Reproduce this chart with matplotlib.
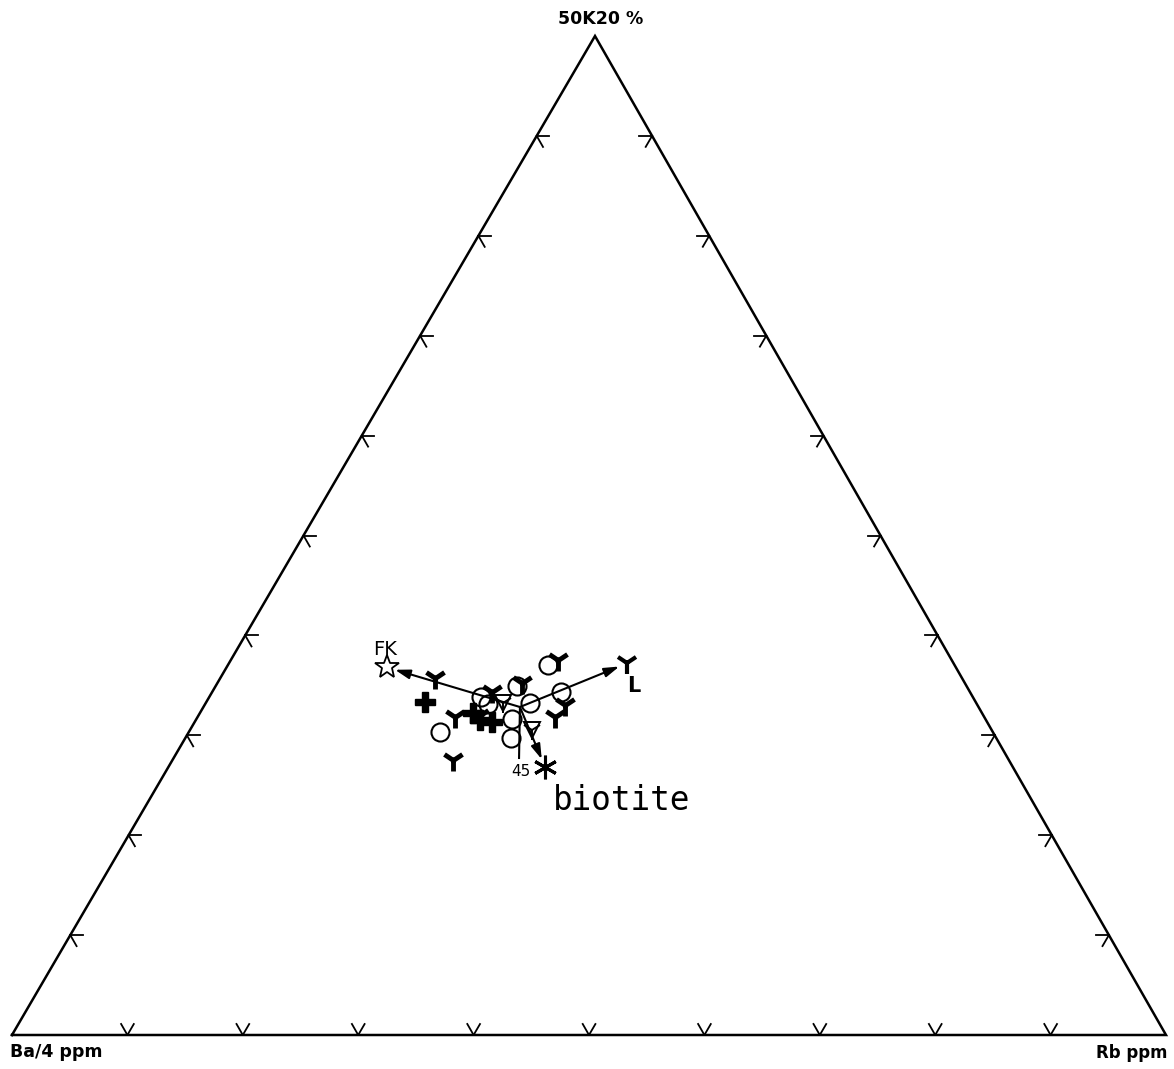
import numpy as np
import matplotlib
matplotlib.use("Agg")
import matplotlib.pyplot as plt

# ---- data: compositions in % (Ba/4, 50K2O, Rb) ----
circ_ba = [47.9, 42.6, 42.4, 39.0, 35.2, 38.7, 35.4, 41.0, 42.1]
circ_k = [30.3, 33.8, 33.1, 34.9, 37.0, 33.2, 34.3, 31.6, 29.7]
circ_rb = [21.8, 23.6, 24.5, 26.1, 27.7, 28.1, 30.2, 27.4, 28.2]

tri_ba = [45.7, 45.9, 48.2, 41.4, 38.4, 34.1, 37.2, 35.7, 43.7]
tri_k = [35.7, 31.8, 27.5, 34.3, 35.2, 37.5, 31.8, 33.0, 31.9]
tri_rb = [18.6, 22.3, 24.3, 24.3, 26.4, 28.4, 31.0, 31.2, 24.3]

otri_ba = [41.0, 39.8]
otri_k = [33.2, 30.5]
otri_rb = [25.8, 29.6]

plus_ba = [47.7, 43.9, 42.9, 44.1]
plus_k = [33.3, 31.5, 31.3, 32.2]
plus_rb = [19.0, 24.6, 25.8, 23.7]

end_names = ["FK", "L", "biotite"]
end_ba = [49.3, 28.3, 40.5]
end_k = [36.8, 37.2, 26.8]
end_rb = [13.9, 34.5, 32.6]

junction = (39.7, 32.8, 27.4)
tie45_end = (42.3, 27.7, 29.9)
tie45_label = "45"

axis_labels = ["Ba/4 ppm", "50K20 %", "Rb ppm"]
tick_fracs = [0.1, 0.2, 0.3, 0.4, 0.5, 0.6, 0.7, 0.8, 0.9]

H = np.sqrt(3) / 2
AX = 0.5052  # apex horizontal position (as drawn by the plotter)


def tern(a, b, c):
    a = np.asarray(a, float); b = np.asarray(b, float); c = np.asarray(c, float)
    s = a + b + c
    b = b / s; c = c / s
    return c + b * AX, b * H


def unit(dx, dy):
    n = np.hypot(dx, dy)
    return dx / n, dy / n


W, Hpx = 1174, 1069
fig = plt.figure(figsize=(W / 100, Hpx / 100), dpi=100)
ax = fig.add_axes([12 / W, 34 / Hpx, 1154 / W, 999 / Hpx])
ax.set_xlim(0, 1)
ax.set_ylim(0, H)
ax.axis("off")

# triangle
ax.plot([0, 1, AX, 0], [0, 0, H, 0], color="black", lw=1.8, solid_joinstyle="miter",
        clip_on=False)

# ticks
L = 0.011
dl = unit(AX, H)          # along left edge (upwards)
dr = unit(AX - 1, H)      # along right edge (upwards)
for f in tick_fracs:
    segs = [((f, 0), [dl, dr]),
            ((f * AX, f * H), [(1, 0), (-dr[0], -dr[1])]),
            ((1 - f * (1 - AX), f * H), [(-1, 0), (-dl[0], -dl[1])])]
    for (x0, y0), dirs in segs:
        for d in dirs:
            ax.plot([x0, x0 + L * d[0]], [y0, y0 + L * d[1]], color="black", lw=1.3)

# tie lines with arrows
jx, jy = tern(*junction)
ex, ey = tern(end_ba, end_k, end_rb)
for i in range(3):
    ax.annotate("", xy=(ex[i], ey[i]), xytext=(jx, jy),
                arrowprops=dict(arrowstyle="-|>,head_length=0.9,head_width=0.28",
                                color="black", lw=1.5, shrinkA=0, shrinkB=6))
tx, ty = tern(*tie45_end)
ax.plot([jx, tx], [jy, ty], color="black", lw=1.5)
ax.annotate(tie45_label, xy=(tx, ty), xytext=(2, -13), textcoords="offset pixels",
            ha="center", va="center", fontsize=11, family="DejaVu Sans")

# markers
x, y = tern(circ_ba, circ_k, circ_rb)
ax.plot(x, y, ls="none", marker="o", ms=13, mfc="none", mec="black", mew=1.5)
x, y = tern(tri_ba, tri_k, tri_rb)
ax.plot(x, y, ls="none", marker="1", ms=16, mec="black", mew=3.5)
x, y = tern(otri_ba, otri_k, otri_rb)
ax.plot(x, y, ls="none", marker="v", ms=11, mfc="none", mec="black", mew=1.4)
ax.plot(x, y, ls="none", marker="1", ms=15, mec="black", mew=1.4)
x, y = tern(plus_ba, plus_k, plus_rb)
ax.plot(x, y, ls="none", marker="P", ms=14, mfc="black", mec="black", mew=1)

# end members
ax.plot(ex[0], ey[0], ls="none", marker="*", ms=18, mfc="white", mec="black", mew=1.3)
ax.plot(ex[1], ey[1], ls="none", marker="1", ms=16, mec="black", mew=3)
ax.plot(ex[2], ey[2], ls="none", marker=(6, 2, 0), ms=17, mec="black", mew=2.2)

ax.annotate(end_names[0], xy=(ex[0], ey[0]), xytext=(-2, 18), textcoords="offset pixels",
            ha="center", va="center", fontsize=14, family="DejaVu Sans")
ax.annotate(end_names[1], xy=(ex[1], ey[1]), xytext=(7, -23), textcoords="offset pixels",
            ha="center", va="center", fontsize=15, family="DejaVu Sans", fontweight="bold")
ax.annotate(end_names[2], xy=(ex[2], ey[2]), xytext=(8, -33), textcoords="offset pixels",
            ha="left", va="center", fontsize=23.5, family="DejaVu Sans Mono")

# axis labels
ax.annotate(axis_labels[0], xy=(0, 0), xytext=(-2, -17), textcoords="offset pixels",
            ha="left", va="center", fontsize=12.5, fontweight="bold", family="DejaVu Sans")
ax.annotate(axis_labels[1], xy=(AX, H), xytext=(6, 17), textcoords="offset pixels",
            ha="center", va="center", fontsize=12.5, fontweight="bold", family="DejaVu Sans")
ax.annotate(axis_labels[2], xy=(1, 0), xytext=(2, -18), textcoords="offset pixels",
            ha="right", va="center", fontsize=12, fontweight="bold", family="DejaVu Sans")

fig.savefig("out.png", dpi=100, facecolor="white")
